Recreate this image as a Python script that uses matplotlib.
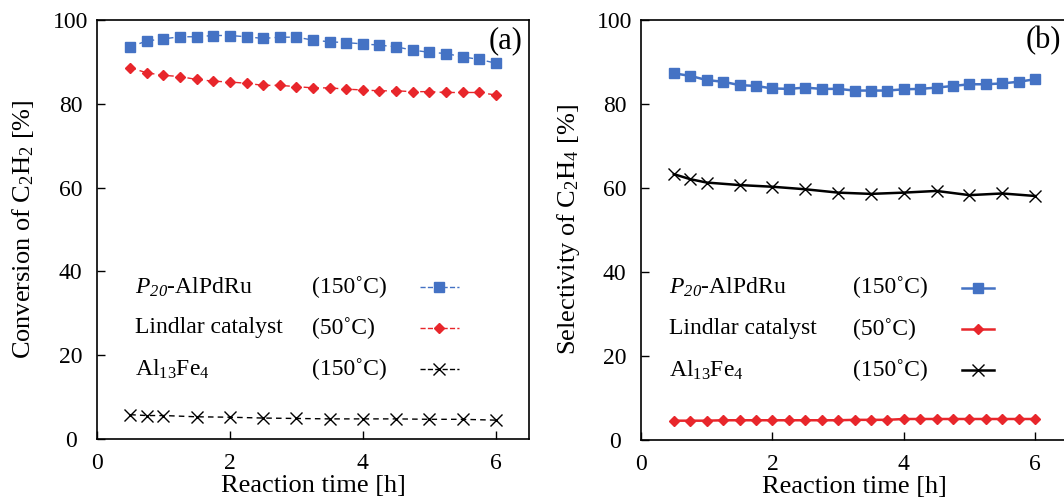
import matplotlib
matplotlib.use("Agg")
import matplotlib.pyplot as plt

plt.rcParams['font.family'] = ['Liberation Serif', 'DejaVu Serif']
plt.rcParams['mathtext.fontset'] = 'custom'
plt.rcParams['mathtext.rm'] = 'Liberation Serif'
plt.rcParams['mathtext.it'] = 'Liberation Serif:italic'
plt.rcParams['mathtext.cal'] = 'Liberation Serif:italic'  # italic digits for P20

# reaction time grids [h]
t_fine = [0.5, 0.75, 1.0, 1.25, 1.5, 1.75, 2.0, 2.25, 2.5, 2.75, 3.0, 3.25,
          3.5, 3.75, 4.0, 4.25, 4.5, 4.75, 5.0, 5.25, 5.5, 5.75, 6.0]
t_coarse = [0.5, 0.75, 1.0, 1.5, 2.0, 2.5, 3.0, 3.5, 4.0, 4.5, 5.0, 5.5, 6.0]

# (a) conversion of C2H2 [%]
conv_alpdru = [93.6, 95.0, 95.5, 96.0, 96.0, 96.3, 96.3, 96.0, 95.6, 95.9, 95.9, 95.2,
               94.8, 94.6, 94.3, 94.0, 93.6, 92.8, 92.3, 92.0, 91.2, 90.6, 89.7]
conv_lindlar = [88.6, 87.4, 86.8, 86.5, 85.8, 85.4, 85.2, 84.9, 84.4, 84.4, 84.1, 83.8,
                83.8, 83.5, 83.3, 83.1, 83.1, 82.9, 82.9, 82.7, 82.7, 82.7, 82.1]
conv_alfe = [5.8, 5.6, 5.6, 5.3, 5.2, 5.0, 4.9, 4.8, 4.8, 4.8, 4.7, 4.7, 4.5]

# (b) selectivity of C2H4 [%]
sel_alpdru = [87.3, 86.7, 85.7, 85.3, 84.5, 84.3, 83.7, 83.6, 83.9, 83.6, 83.6, 83.2,
              83.2, 83.2, 83.5, 83.6, 83.9, 84.3, 84.7, 84.7, 84.9, 85.3, 85.9]
sel_lindlar = [4.6, 4.6, 4.6, 4.7, 4.7, 4.7, 4.7, 4.7, 4.7, 4.7, 4.7, 4.8,
               4.8, 4.8, 5.0, 5.0, 5.0, 5.0, 5.0, 5.0, 5.0, 5.0, 5.0]
sel_alfe = [63.3, 62.1, 61.3, 60.7, 60.3, 59.7, 58.9, 58.6, 58.9, 59.3, 58.3, 58.7, 58.1]

names = [r'$\mathcal{P}_{\mathcal{20}}$-AlPdRu', 'Lindlar catalyst', r'Al$_{13}$Fe$_{4}$']
temps = ['(150˚C)', '(50˚C)', '(150˚C)']

blue = '#4472c4'
red = '#e8262b'

fig = plt.figure(figsize=(10.64, 5), dpi=100)
ax1 = fig.add_axes([97 / 1064, 61 / 500, 432 / 1064, 419 / 500])
ax2 = fig.add_axes([641 / 1064, 60 / 500, 427 / 1064, 420 / 500])

# (a) dashed lines
la = []
la += ax1.plot(t_fine, conv_alpdru, color=blue, ls=(0, (4, 3)), lw=1, marker='s', ms=6.5)
la += ax1.plot(t_fine, conv_lindlar, color=red, ls=(0, (4, 3)), lw=1, marker='D', ms=5.5)
la += ax1.plot(t_coarse, conv_alfe, color='black', ls=(0, (4, 3)), lw=1, marker='x', ms=9, mew=1)

# (b) solid lines
lb = []
lb += ax2.plot(t_fine, sel_alpdru, color=blue, lw=1.8, marker='s', ms=6.5)
lb += ax2.plot(t_fine, sel_lindlar, color=red, lw=1.8, marker='D', ms=5.5)
lb += ax2.plot(t_coarse, sel_alfe, color='black', lw=1.8, marker='x', ms=9, mew=1)

setups = [
    (ax1, la, 'Conversion of C$_2$H$_2$ [%]', '(a)', 0.088, 0.498, 0.792, 0.045, 12),
    (ax2, lb, 'Selectivity of C$_2$H$_4$ [%]', '(b)', 0.066, 0.496, 0.789, 0.037, 11),
]
rows = [0.363, 0.265, 0.167]

for ax, lines, ylab, tag, xn, xt, xk, hw, ypad in setups:
    ax.set_xlim(0, 6.5)
    ax.set_ylim(0, 100)
    ax.set_xticks([0, 2, 4, 6])
    ax.set_yticks([0, 20, 40, 60, 80, 100])
    ax.tick_params(direction='in', length=6, width=1, labelsize=17,
                   top=False, right=False)
    ax.tick_params(axis='x', pad=10)
    ax.tick_params(axis='y', pad=19)
    for lab in ax.get_yticklabels():
        lab.set_horizontalalignment('center')
    for s in ax.spines.values():
        s.set_linewidth(1.2)
    ax.set_xlabel('Reaction time [h]', fontsize=19, labelpad=1)
    ax.set_ylabel(ylab, fontsize=19, labelpad=ypad)
    ax.text(0.985, 0.985, tag, transform=ax.transAxes, ha='right', va='top', fontsize=22)
    # hand-made legend: name, temperature, key
    for ln, name, temp, y in zip(lines, names, temps, rows):
        ax.text(xn, y, name, transform=ax.transAxes, ha='left', va='center', fontsize=17)
        ax.text(xt, y, temp, transform=ax.transAxes, ha='left', va='center', fontsize=17)
        ax.plot([xk - hw, xk, xk + hw], [y, y, y], transform=ax.transAxes,
                color=ln.get_color(), ls=ln.get_linestyle(), lw=ln.get_linewidth(),
                marker=ln.get_marker(), ms=ln.get_markersize(), mew=ln.get_markeredgewidth(),
                markevery=[1], clip_on=False)

fig.savefig('out.png', dpi=100)
